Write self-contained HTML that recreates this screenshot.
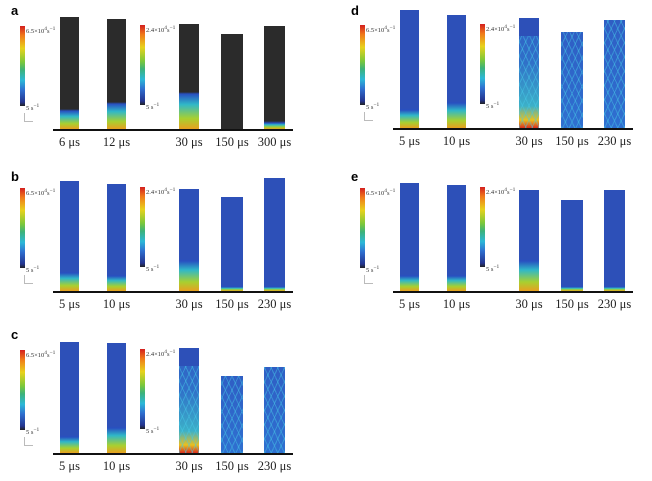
<!DOCTYPE html>
<html><head><meta charset="utf-8">
<style>
body{margin:0;background:#fff;}
#fig{position:relative;width:652px;height:481px;overflow:hidden;background:#fff;font-family:"Liberation Serif",serif;}
.abs{position:absolute;}
.lab{position:absolute;font-family:"Liberation Sans",sans-serif;font-weight:bold;font-size:13px;}
.tl{position:absolute;font-size:12.5px;color:#222;white-space:nowrap;transform:translateX(-50%);}
.cb{position:absolute;width:5px;background:linear-gradient(to bottom,#d41f1f 0%,#f07a1a 12%,#e8d21c 28%,#7cc83a 45%,#3cb27a 55%,#2cb8d8 68%,#2f6fd0 80%,#24358f 95%,#222 100%);}
.cbt{position:absolute;font-size:6.5px;color:#333;white-space:nowrap;}
.base{position:absolute;height:2px;background:#111;}
</style></head><body>
<div id="fig"></div>
<script>
const panelLabels=['a','b','c','d','e'];
const panelX=[0,0,0,340,340];
const panelY=[0,166,324,0,166];
const timeLabels=[['6 μs','12 μs','30 μs','150 μs','300 μs'],['5 μs','10 μs','30 μs','150 μs','230 μs'],['5 μs','10 μs','30 μs','150 μs','230 μs'],['5 μs','10 μs','30 μs','150 μs','230 μs'],['5 μs','10 μs','30 μs','150 μs','230 μs']];
// bar heights above baseline (px)
const barHeights=[[112,110,105,95,103],[110,107,102,94,113],[111,110,105,77,86],[118,113,110,96,108],[108,106,101,91,101]];
const barStyle=[['dk','dk','dk','dk','dk'],['bl','bl','bl','bl','bl'],['bl','bl','mesh','mesh','mesh'],['bl','bl','mesh','mesh','mesh'],['bl','bl','bl','bl','bl']];
const glowH=[[18,25,35,0,6],[18,15,30,4,4],[16,25,0,0,0],[18,25,0,0,0],[15,15,30,4,4]];
const barXs=[60,107,179,221,264];const barWs=[19,19,20,22,21];
const fig=document.getElementById('fig');
function el(cls,name,css,txt){const d=document.createElement('div');d.className=cls;


d.style.cssText=css;if(txt!==undefined)d.innerHTML=txt;fig.appendChild(d);return d;}
const baseY=[129,291,453,128,291];
panelLabels.forEach((p,i)=>{
 const ox=panelX[i],oy=panelY[i],by=baseY[i];
 el('lab','panel-label-'+p,`left:${ox+11}px;top:${oy+3}px;`,p);
 el('cb','colorbar-early',`left:${ox+20}px;top:${by-103}px;height:80px;`);
 el('cbt','colorbar-max-label',`left:${ox+26}px;top:${by-103}px;`,'6.5×10<sup>4</sup>s<sup>−1</sup>');
 el('cbt','colorbar-min-label',`left:${ox+26}px;top:${by-26}px;`,'5 s<sup>−1</sup>');
 el('abs','axis-marker',`left:${ox+24}px;top:${by-16}px;width:8px;height:8px;border-left:1px solid #bbb;border-bottom:1px solid #bbb;`);
 el('cb','colorbar-late',`left:${ox+140}px;top:${by-104}px;height:80px;`);
 el('cbt','colorbar-max-label',`left:${ox+146}px;top:${by-104}px;`,'2.4×10<sup>4</sup>s<sup>−1</sup>');
 el('cbt','colorbar-min-label',`left:${ox+146}px;top:${by-27}px;`,'5 s<sup>−1</sup>');
 el('base','baseline',`left:${ox+53}px;top:${by}px;width:240px;`);
 barHeights[i].forEach((h,j)=>{
  const x=ox+barXs[j],w=barWs[j],st=barStyle[i][j],g=glowH[i][j];
  let bg;
  const main=st==='dk'?'#2b2b2b':'#2d50b8';
  if(st==='mesh'){bg=`repeating-linear-gradient(65deg,rgba(70,200,230,.45) 0 1px,transparent 1px 6px),repeating-linear-gradient(-65deg,rgba(70,200,230,.45) 0 1px,transparent 1px 6px),linear-gradient(to top,${j===2?'#d83020 0,#e8c020 8px,#3cb0c8 22px,#3070c8 60%':'#2f70d0 0'},#2f5ec4 100%)`;}
  else if(g>0){bg=`linear-gradient(to top,#e8a020 0,#a8d030 ${g*0.3}px,#30b8c8 ${g*0.7}px,#2850c0 ${g}px,${main} ${g+2}px,${main} 100%)`;}
  else bg=main;
  const top=(st==='mesh'&&j===2)?`linear-gradient(${main},${main}) top/100% 18px no-repeat,`:'';
  el('abs','bar-'+p+'-'+(j+1),`left:${x}px;top:${by-h}px;width:${w}px;height:${h}px;background:${top}${bg};`);
  el('tl','time-label',`left:${x+w/2}px;top:${by+6}px;`,timeLabels[i][j]);
 });
});
</script>
</body></html>
